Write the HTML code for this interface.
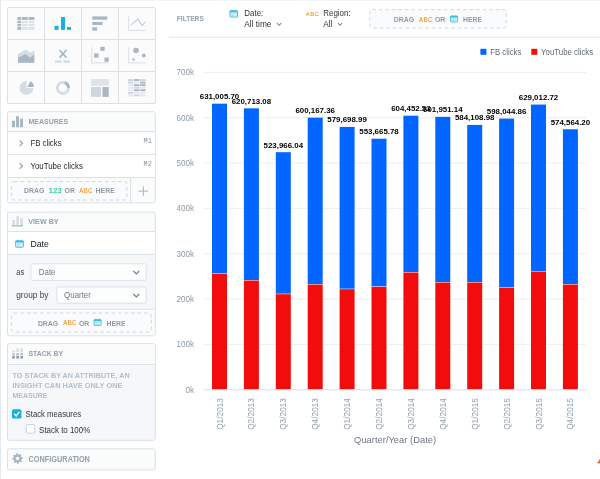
<!DOCTYPE html>
<html><head><meta charset="utf-8"><style>
html,body{margin:0;padding:0;}
body{width:600px;height:479px;position:relative;overflow:hidden;background:#fff;font-family:"Liberation Sans", sans-serif;}
.a{position:absolute;}
svg{will-change:transform;}
</style></head><body>
<div class="a" style="left:0;top:0;width:600px;height:1px;background:#f2f4f7"></div>
<div class="a" style="left:0;top:0;width:1px;height:479px;background:#e3e8ec"></div>
<div class="a" style="left:7px;top:7px;width:149px;height:96.5px;box-sizing:border-box;border:1px solid #d9e1e8;border-radius:2px;background:#fbfbfc"></div><div class="a" style="left:44px;top:7.5px;width:1px;height:95.5px;background:#d9e1e8"></div><div class="a" style="left:81px;top:7.5px;width:1px;height:95.5px;background:#d9e1e8"></div><div class="a" style="left:118px;top:7.5px;width:1px;height:95.5px;background:#d9e1e8"></div><div class="a" style="left:7px;top:39.3px;width:149px;height:1px;background:#d9e1e8"></div><div class="a" style="left:7px;top:71.3px;width:149px;height:1px;background:#d9e1e8"></div><svg class="a" style="left:0;top:0" width="160" height="110"><rect x="17.3" y="17" width="3.8" height="2.9" fill="#a9b7c3"/><rect x="22" y="17" width="5.8" height="2.9" fill="#a9b7c3"/><rect x="28.6" y="17" width="5.9" height="2.9" fill="#a9b7c3"/><rect x="17.3" y="20.8" width="3.8" height="2.3" fill="#a9b7c3"/><rect x="22" y="20.8" width="5.8" height="2.3" fill="#dde2e7"/><rect x="28.6" y="20.8" width="5.9" height="2.3" fill="#dde2e7"/><rect x="17.3" y="23.9" width="3.8" height="2.3" fill="#a9b7c3"/><rect x="22" y="23.9" width="5.8" height="2.3" fill="#dde2e7"/><rect x="28.6" y="23.9" width="5.9" height="2.3" fill="#dde2e7"/><rect x="17.3" y="27" width="3.8" height="2.9" fill="#a9b7c3"/><rect x="22" y="27" width="5.8" height="2.9" fill="#dde2e7"/><rect x="28.6" y="27" width="5.9" height="2.9" fill="#dde2e7"/><rect x="54.5" y="25.8" width="4" height="4.1" fill="#14b2e2"/><rect x="61" y="17" width="4" height="12.9" fill="#14b2e2"/><rect x="67" y="27" width="4" height="2.9" fill="#14b2e2"/><rect x="92.3" y="16.4" width="15" height="3.3" fill="#a9b7c3"/><rect x="92.3" y="22" width="10.2" height="3" fill="#a9b7c3"/><rect x="92.3" y="27.3" width="4.7" height="3.4" fill="#a9b7c3"/><path d="M128.6 16.4 V30.4 H145.8" fill="none" stroke="#d5dce2" stroke-width="0.9"/><path d="M131 25 L137.9 18.9 L142.3 25.6 L145.4 21.7" fill="none" stroke="#a9b7c3" stroke-width="0.9"/><path d="M18 54 L25.8 49.6 L30.1 52.8 L34.3 50.2 V62.8 H18Z" fill="#d5dce2"/><path d="M18 57.8 L25.8 54 L30.1 57.8 L34.3 54.6 V62.8 H18Z" fill="#a9b7c3"/><path d="M59.6 50 L66.4 57.6 M66.4 50 L59.6 57.6" stroke="#a9b7c3" stroke-width="1.7" fill="none"/><rect x="55" y="60.5" width="6.7" height="2.3" fill="#d5dce2"/><rect x="63.3" y="60.5" width="6.8" height="2.3" fill="#d5dce2"/><path d="M91.6 47.1 V62.9 H108.5" fill="none" stroke="#d5dce2" stroke-width="0.9"/><rect x="100.4" y="46.8" width="4.3" height="4.1" fill="#a9b7c3"/><rect x="94.1" y="53.4" width="4.4" height="4.3" fill="#a9b7c3"/><rect x="104.5" y="57.5" width="4.2" height="4.3" fill="#a9b7c3"/><path d="M128.6 47.1 V62.9 H145.8" fill="none" stroke="#d5dce2" stroke-width="0.9"/><circle cx="136" cy="50.5" r="2.8" fill="#a9b7c3"/><circle cx="143.8" cy="55.5" r="1.9" fill="#a9b7c3"/><circle cx="133.5" cy="59.4" r="1.25" fill="#a9b7c3"/><path d="M26.4 87.9 L33.40 87.90 A7 7 0 1 1 26.40 80.90 Z" fill="#d5dce2"/><path d="M27.2 87.1 L30.45 81.24 A6.7 6.7 0 0 1 33.90 87.10 Z" fill="#a9b7c3"/><circle cx="62.9" cy="87.9" r="5.6" fill="none" stroke="#d5dce2" stroke-width="2.8"/><path d="M64.8 82.6 A5.6 5.6 0 0 1 68.5 87.9" fill="none" stroke="#a9b7c3" stroke-width="2.8"/><rect x="91" y="79.1" width="17.8" height="6.6" fill="#dde3e8"/><rect x="91" y="87" width="10" height="9.9" fill="#cfd7de"/><rect x="102.5" y="87" width="6.2" height="9.9" fill="#a9b7c3"/><rect x="127.90" y="79.10" width="5.5" height="1.9" fill="#cdd5dc"/><rect x="134.00" y="79.10" width="5.5" height="1.9" fill="#a9b7c3"/><rect x="140.10" y="79.10" width="5.5" height="1.9" fill="#cdd5dc"/><rect x="127.90" y="81.65" width="5.5" height="1.9" fill="#cdd5dc"/><rect x="134.00" y="81.65" width="5.5" height="1.9" fill="#e4e8ec"/><rect x="140.10" y="81.65" width="5.5" height="1.9" fill="#a9b7c3"/><rect x="127.90" y="84.20" width="5.5" height="1.9" fill="#e4e8ec"/><rect x="134.00" y="84.20" width="5.5" height="1.9" fill="#a9b7c3"/><rect x="140.10" y="84.20" width="5.5" height="1.9" fill="#a9b7c3"/><rect x="127.90" y="86.75" width="5.5" height="1.9" fill="#e4e8ec"/><rect x="134.00" y="86.75" width="5.5" height="1.9" fill="#cdd5dc"/><rect x="140.10" y="86.75" width="5.5" height="1.9" fill="#e4e8ec"/><rect x="127.90" y="89.30" width="5.5" height="1.9" fill="#e4e8ec"/><rect x="134.00" y="89.30" width="5.5" height="1.9" fill="#a9b7c3"/><rect x="140.10" y="89.30" width="5.5" height="1.9" fill="#a9b7c3"/><rect x="127.90" y="91.85" width="5.5" height="1.9" fill="#cdd5dc"/><rect x="134.00" y="91.85" width="5.5" height="1.9" fill="#e4e8ec"/><rect x="140.10" y="91.85" width="5.5" height="1.9" fill="#e4e8ec"/><rect x="127.90" y="94.40" width="5.5" height="1.9" fill="#e4e8ec"/><rect x="134.00" y="94.40" width="5.5" height="1.9" fill="#cdd5dc"/><rect x="140.10" y="94.40" width="5.5" height="1.9" fill="#e4e8ec"/></svg><svg width="600" height="479" style="position:absolute;left:0;top:0" font-family='"Liberation Sans", sans-serif'><rect x="7.5" y="111.7" width="147.8" height="91.10000000000001" rx="2" fill="#fafbfb" stroke="#d9e1e8" stroke-width="1"/><rect x="8.5" y="132" width="146.3" height="45.5" fill="#ffffff" /><rect x="8" y="131.1" width="147.3" height="1" fill="#d9e1e8" /><rect x="8" y="153.9" width="147.3" height="1" fill="#d9e1e8" /><rect x="8" y="177.0" width="147.3" height="1" fill="#d9e1e8" /><rect x="12" y="120.7" width="3" height="6.5" fill="#a9b7c3" /><rect x="16" y="116.2" width="3" height="11" fill="#a9b7c3" /><rect x="20" y="118.7" width="3" height="8.5" fill="#a9b7c3" /><text transform="translate(28.5,124.1) scale(1,1.12)" font-size="7.0" fill="#94a1ad" font-weight="bold" text-anchor="start" >MEASURES</text><path d="M19.6 140.5 L22.5 143.3 L19.6 146.1" fill="none" stroke="#9aa7b2" stroke-width="1.25"/><text transform="translate(30.4,145.8) scale(1,1.12)" font-size="7.8" fill="#1e2226" font-weight="normal" text-anchor="start" >FB clicks</text><path d="M19.6 163.2 L22.5 166.0 L19.6 168.79999999999998" fill="none" stroke="#9aa7b2" stroke-width="1.25"/><text transform="translate(30.4,168.5) scale(1,1.12)" font-size="7.9" fill="#1e2226" font-weight="normal" text-anchor="start" >YouTube clicks</text><text x="151.8" y="142.9" font-size="6.9" fill="#8894a0" text-anchor="end" font-family="Liberation Mono, monospace">M1</text><text x="151.8" y="166" font-size="6.9" fill="#8894a0" text-anchor="end" font-family="Liberation Mono, monospace">M2</text><rect x="11.6" y="181.6" width="115.30000000000001" height="18.400000000000006" rx="2.5" fill="#fafbfc" stroke="#cfd7de" stroke-width="1" stroke-dasharray="3.6 2.9"/><rect x="130.1" y="177.5" width="1" height="25.30000000000001" fill="#d9e1e8" /><rect x="138.4" y="190.6" width="9.9" height="1" fill="#a9b6c1" /><rect x="142.85" y="186.2" width="1" height="9.8" fill="#a9b6c1" /><text x="24" y="193.3" font-size="6.9" fill="#8f9ba6" font-weight="bold" text-anchor="start" >DRAG</text><text transform="translate(48.8,193.3) scale(1,1.05)" font-size="7.2" fill="#1fbf91" font-weight="normal" text-anchor="start" letter-spacing="0.35" stroke="#1fbf91" stroke-width="0.15">123</text><text x="64.6" y="193.3" font-size="6.9" fill="#8f9ba6" font-weight="bold" text-anchor="start" >OR</text><text transform="translate(79.2,192.9) scale(1,1.05)" font-size="6.0" fill="#f18600" font-weight="normal" text-anchor="start" letter-spacing="0.45">ABC</text><text x="95.6" y="193.3" font-size="6.9" fill="#8f9ba6" font-weight="bold" text-anchor="start" >HERE</text><rect x="7.5" y="212.1" width="147.8" height="123.70000000000002" rx="2" fill="#fafbfb" stroke="#d9e1e8" stroke-width="1"/><rect x="8.5" y="231.8" width="146.3" height="22.4" fill="#ffffff" /><rect x="8.5" y="254.6" width="146.3" height="54.4" fill="#f5f7f9" /><rect x="8" y="230.9" width="147.3" height="1" fill="#d9e1e8" /><rect x="8" y="254.0" width="147.3" height="1" fill="#d9e1e8" /><rect x="8" y="308.7" width="147.3" height="1" fill="#d9e1e8" /><rect x="12.3" y="220" width="2.6" height="5.5" fill="#d5dce2" /><rect x="16.3" y="216.2" width="2.6" height="9.3" fill="#d5dce2" /><rect x="20.3" y="218.2" width="2.6" height="7.3" fill="#d5dce2" /><rect x="12" y="225.2" width="11" height="1.3" fill="#a9b7c3" /><text transform="translate(28.3,224) scale(1,1.08)" font-size="7.2" fill="#94a1ad" font-weight="bold" text-anchor="start" >VIEW BY</text><g transform="translate(14.9,239.2) scale(0.5111111111111111)"><rect x="1.4" y="3.2" width="15.2" height="12.6" rx="1.6" fill="#d6f0f9" stroke="#3bbde6" stroke-width="1.8"/><rect x="1" y="3" width="16" height="3.4" fill="#3bbde6"/><rect x="4.3" y="0.8" width="2.2" height="3.2" rx="1" fill="#3bbde6"/><rect x="11.5" y="0.8" width="2.2" height="3.2" rx="1" fill="#3bbde6"/><rect x="4" y="8.6" width="10" height="5" fill="#8fd6ee"/><path d="M4.6 9.3 L7.3 11.1 L4.6 12.9Z" fill="#ffffff"/><rect x="8.6" y="9.2" width="2.4" height="3.9" fill="#ffffff"/><rect x="12.2" y="9.2" width="1.4" height="3.9" fill="#ffffff"/></g><text x="30.5" y="247.2" font-size="8.7" fill="#15191c" font-weight="normal" text-anchor="start" >Date</text><text transform="translate(16.2,275) scale(1,1.1)" font-size="7.6" fill="#3c4349" font-weight="normal" text-anchor="start" >as</text><rect x="30.9" y="263.8" width="115.3" height="16.6" rx="1.5" fill="#fcfdfd" stroke="#d9e1e8" stroke-width="1"/><text transform="translate(38.8,275.1) scale(1,1.1)" font-size="7.9" fill="#6f7b86" font-weight="normal" text-anchor="start" >Date</text><path d="M133.4 271 L136.3 273.9 L139.20000000000002 271" fill="none" stroke="#6f7a85" stroke-width="1.1"/><text transform="translate(16.2,298.2) scale(1,1.05)" font-size="8.3" fill="#3c4349" font-weight="normal" text-anchor="start" >group by</text><rect x="56.8" y="287" width="89.4" height="16.2" rx="1.5" fill="#fcfdfd" stroke="#d9e1e8" stroke-width="1"/><text transform="translate(64.1,297.9) scale(1,1.1)" font-size="7.9" fill="#6f7b86" font-weight="normal" text-anchor="start" >Quarter</text><path d="M133.4 294 L136.3 296.9 L139.20000000000002 294" fill="none" stroke="#6f7a85" stroke-width="1.1"/><rect x="11.6" y="313.0" width="139.8" height="19.0" rx="2.5" fill="#fafbfc" stroke="#cfd7de" stroke-width="1" stroke-dasharray="3.6 2.9"/><text x="37.9" y="325.8" font-size="6.9" fill="#8f9ba6" font-weight="bold" text-anchor="start" >DRAG</text><text transform="translate(63.2,325.3) scale(1,1.05)" font-size="6.0" fill="#f18600" font-weight="normal" text-anchor="start" letter-spacing="0.45">ABC</text><text x="79.0" y="325.8" font-size="6.9" fill="#8f9ba6" font-weight="bold" text-anchor="start" >OR</text><g transform="translate(93.4,318.2) scale(0.4666666666666667)"><rect x="1.4" y="3.2" width="15.2" height="12.6" rx="1.6" fill="#d6f0f9" stroke="#3bbde6" stroke-width="1.8"/><rect x="1" y="3" width="16" height="3.4" fill="#3bbde6"/><rect x="4.3" y="0.8" width="2.2" height="3.2" rx="1" fill="#3bbde6"/><rect x="11.5" y="0.8" width="2.2" height="3.2" rx="1" fill="#3bbde6"/><rect x="4" y="8.6" width="10" height="5" fill="#8fd6ee"/><path d="M4.6 9.3 L7.3 11.1 L4.6 12.9Z" fill="#ffffff"/><rect x="8.6" y="9.2" width="2.4" height="3.9" fill="#ffffff"/><rect x="12.2" y="9.2" width="1.4" height="3.9" fill="#ffffff"/></g><text x="106.5" y="325.8" font-size="6.9" fill="#8f9ba6" font-weight="bold" text-anchor="start" >HERE</text><rect x="7.5" y="343.7" width="147.8" height="96.60000000000002" rx="2" fill="#f5f7f9" stroke="#d9e1e8" stroke-width="1"/><rect x="8.5" y="344.2" width="146.3" height="20" fill="#fafbfb" /><rect x="8" y="363.9" width="147.3" height="1" fill="#d9e1e8" /><rect x="12.2" y="350.5" width="2.6" height="2" fill="#d7dee4" /><rect x="12.2" y="353.2" width="2.6" height="2.2" fill="#b7c3cc" /><rect x="12.2" y="356" width="2.6" height="2.6" fill="#8d9ba7" /><rect x="16.3" y="348.5" width="2.6" height="3.5" fill="#d7dee4" /><rect x="16.3" y="353" width="2.6" height="2.5" fill="#b7c3cc" /><rect x="16.3" y="356" width="2.6" height="2.6" fill="#8d9ba7" /><rect x="20.4" y="348.3" width="2.6" height="4" fill="#d7dee4" /><rect x="20.4" y="353" width="2.6" height="2.3" fill="#b7c3cc" /><rect x="20.4" y="356" width="2.6" height="2.6" fill="#8d9ba7" /><text transform="translate(28.5,356) scale(1,1.12)" font-size="6.9" fill="#94a1ad" font-weight="bold" text-anchor="start" >STACK BY</text><text transform="translate(12.5,378.2) scale(1,1.05)" font-size="7.26" fill="#b3bec8" font-weight="bold" text-anchor="start" >TO STACK BY AN ATTRIBUTE, AN</text><text transform="translate(12.5,388.2) scale(1,1.05)" font-size="7.4" fill="#b3bec8" font-weight="bold" text-anchor="start" >INSIGHT CAN HAVE ONLY ONE</text><text transform="translate(12.5,398.2) scale(1,1.08)" font-size="7.0" fill="#b3bec8" font-weight="bold" text-anchor="start" >MEASURE</text><rect x="12" y="409.3" width="9.4" height="9.2" rx="1.5" fill="#14b2e2"/><path d="M14.2 413.8 L16.2 415.9 L19.3 411.8" fill="none" stroke="#fff" stroke-width="1.3"/><text transform="translate(25.6,417.4) scale(1,1.18)" font-size="7.75" fill="#30363b" font-weight="normal" text-anchor="start" >Stack measures</text><rect x="26.2" y="424.5" width="8.6" height="8.7" rx="1.2" fill="#fff" stroke="#c9d2da" stroke-width="1"/><text transform="translate(39.1,432.8) scale(1,1.15)" font-size="7.95" fill="#30363b" font-weight="normal" text-anchor="start" >Stack to 100%</text><rect x="7.5" y="448.8" width="147.8" height="21.099999999999966" rx="2" fill="#fafbfb" stroke="#d9e1e8" stroke-width="1"/><polygon points="22.80,457.45 22.90,458.50 21.42,459.28 21.20,460.03 21.99,461.50 21.32,462.32 19.72,461.83 19.03,462.20 18.55,463.80 17.50,463.90 16.72,462.42 15.97,462.20 14.50,462.99 13.68,462.32 14.17,460.72 13.80,460.03 12.20,459.55 12.10,458.50 13.58,457.72 13.80,456.97 13.01,455.50 13.68,454.68 15.28,455.17 15.97,454.80 16.45,453.20 17.50,453.10 18.28,454.58 19.03,454.80 20.50,454.01 21.32,454.68 20.83,456.28 21.20,456.97" fill="#a9b7c3"/><circle cx="17.5" cy="458.5" r="1.8" fill="#fafbfb"/><text transform="translate(28.5,461.6) scale(1,1.15)" font-size="7.35" fill="#94a1ad" font-weight="bold" text-anchor="start" >CONFIGURATION</text><text x="176.8" y="21.4" font-size="6.6" fill="#94a1ad" font-weight="bold" text-anchor="start" >FILTERS</text><g transform="translate(229.2,9.2) scale(0.5)"><rect x="1.4" y="3.2" width="15.2" height="12.6" rx="1.6" fill="#d6f0f9" stroke="#3bbde6" stroke-width="1.8"/><rect x="1" y="3" width="16" height="3.4" fill="#3bbde6"/><rect x="4.3" y="0.8" width="2.2" height="3.2" rx="1" fill="#3bbde6"/><rect x="11.5" y="0.8" width="2.2" height="3.2" rx="1" fill="#3bbde6"/><rect x="4" y="8.6" width="10" height="5" fill="#8fd6ee"/><path d="M4.6 9.3 L7.3 11.1 L4.6 12.9Z" fill="#ffffff"/><rect x="8.6" y="9.2" width="2.4" height="3.9" fill="#ffffff"/><rect x="12.2" y="9.2" width="1.4" height="3.9" fill="#ffffff"/></g><text transform="translate(244.3,16.2) scale(1,1.15)" font-size="7.95" fill="#30363b" font-weight="normal" text-anchor="start" >Date:</text><text transform="translate(244.3,27.4) scale(1,1.05)" font-size="8.3" fill="#30363b" font-weight="normal" text-anchor="start" >All time</text><path d="M277 23.2 L279.1 25.3 L281.2 23.2" fill="none" stroke="#7d8994" stroke-width="1.15"/><text x="305.8" y="16.2" font-size="5.9" fill="#f18600" font-weight="normal" text-anchor="start" letter-spacing="0.45">ABC</text><text transform="translate(323.3,16.2) scale(1,1.15)" font-size="7.95" fill="#30363b" font-weight="normal" text-anchor="start" >Region:</text><text transform="translate(323.3,27.4) scale(1,1.05)" font-size="8.3" fill="#30363b" font-weight="normal" text-anchor="start" >All</text><path d="M338 23.2 L340.1 25.3 L342.2 23.2" fill="none" stroke="#7d8994" stroke-width="1.15"/><rect x="369.8" y="9.7" width="136.5" height="18.400000000000002" rx="2.5" fill="#fafbfc" stroke="#cfd7de" stroke-width="1" stroke-dasharray="3.6 2.9"/><text x="393.8" y="22.1" font-size="6.9" fill="#8f9ba6" font-weight="bold" text-anchor="start" >DRAG</text><text transform="translate(419.1,21.9) scale(1,1.05)" font-size="6.0" fill="#f18600" font-weight="normal" text-anchor="start" letter-spacing="0.45">ABC</text><text x="435.0" y="22.1" font-size="6.9" fill="#8f9ba6" font-weight="bold" text-anchor="start" >OR</text><g transform="translate(449.9,14.6) scale(0.4666666666666667)"><rect x="1.4" y="3.2" width="15.2" height="12.6" rx="1.6" fill="#d6f0f9" stroke="#3bbde6" stroke-width="1.8"/><rect x="1" y="3" width="16" height="3.4" fill="#3bbde6"/><rect x="4.3" y="0.8" width="2.2" height="3.2" rx="1" fill="#3bbde6"/><rect x="11.5" y="0.8" width="2.2" height="3.2" rx="1" fill="#3bbde6"/><rect x="4" y="8.6" width="10" height="5" fill="#8fd6ee"/><path d="M4.6 9.3 L7.3 11.1 L4.6 12.9Z" fill="#ffffff"/><rect x="8.6" y="9.2" width="2.4" height="3.9" fill="#ffffff"/><rect x="12.2" y="9.2" width="1.4" height="3.9" fill="#ffffff"/></g><text x="463.0" y="22.1" font-size="6.9" fill="#8f9ba6" font-weight="bold" text-anchor="start" >HERE</text><rect x="169" y="36.7" width="431" height="1" fill="#dfe5eb" /></svg><svg width="600" height="479" style="position:absolute;left:0;top:0" font-family='"Liberation Sans", sans-serif'><rect x="204" y="343.87" width="382" height="1" fill="#eeeeee"/><text transform="translate(194,347.27) scale(1,1.15)" text-anchor="end" font-size="8.1" fill="#8d9aa6">100k</text><rect x="204" y="298.54" width="382" height="1" fill="#eeeeee"/><text transform="translate(194,301.94) scale(1,1.15)" text-anchor="end" font-size="8.1" fill="#8d9aa6">200k</text><rect x="204" y="253.21" width="382" height="1" fill="#eeeeee"/><text transform="translate(194,256.61) scale(1,1.15)" text-anchor="end" font-size="8.1" fill="#8d9aa6">300k</text><rect x="204" y="207.88" width="382" height="1" fill="#eeeeee"/><text transform="translate(194,211.28) scale(1,1.15)" text-anchor="end" font-size="8.1" fill="#8d9aa6">400k</text><rect x="204" y="162.55" width="382" height="1" fill="#eeeeee"/><text transform="translate(194,165.95) scale(1,1.15)" text-anchor="end" font-size="8.1" fill="#8d9aa6">500k</text><rect x="204" y="117.22" width="382" height="1" fill="#eeeeee"/><text transform="translate(194,120.62) scale(1,1.15)" text-anchor="end" font-size="8.1" fill="#8d9aa6">600k</text><rect x="204" y="71.89" width="382" height="1" fill="#eeeeee"/><text transform="translate(194,75.29) scale(1,1.15)" text-anchor="end" font-size="8.1" fill="#8d9aa6">700k</text><text transform="translate(194,392.60) scale(1,1.15)" text-anchor="end" font-size="8.1" fill="#8d9aa6">0k</text><rect x="212.00" y="103.67" width="15" height="169.63" fill="#0066ff"/><rect x="212.00" y="273.80" width="15" height="115.90" fill="#f20c0c"/><rect x="243.90" y="108.33" width="15" height="171.67" fill="#0066ff"/><rect x="243.90" y="280.50" width="15" height="109.20" fill="#f20c0c"/><rect x="275.80" y="152.19" width="15" height="141.51" fill="#0066ff"/><rect x="275.80" y="294.20" width="15" height="95.50" fill="#f20c0c"/><rect x="307.70" y="117.64" width="15" height="166.36" fill="#0066ff"/><rect x="307.70" y="284.50" width="15" height="105.20" fill="#f20c0c"/><rect x="339.60" y="126.92" width="15" height="161.78" fill="#0066ff"/><rect x="339.60" y="289.20" width="15" height="100.50" fill="#f20c0c"/><rect x="371.50" y="138.72" width="15" height="147.58" fill="#0066ff"/><rect x="371.50" y="286.80" width="15" height="102.90" fill="#f20c0c"/><rect x="403.40" y="115.70" width="15" height="156.30" fill="#0066ff"/><rect x="403.40" y="272.50" width="15" height="117.20" fill="#f20c0c"/><rect x="435.30" y="116.84" width="15" height="165.16" fill="#0066ff"/><rect x="435.30" y="282.50" width="15" height="107.20" fill="#f20c0c"/><rect x="467.20" y="124.92" width="15" height="157.08" fill="#0066ff"/><rect x="467.20" y="282.50" width="15" height="107.20" fill="#f20c0c"/><rect x="499.10" y="118.61" width="15" height="168.69" fill="#0066ff"/><rect x="499.10" y="287.80" width="15" height="101.90" fill="#f20c0c"/><rect x="531.00" y="104.57" width="15" height="166.43" fill="#0066ff"/><rect x="531.00" y="271.50" width="15" height="118.20" fill="#f20c0c"/><rect x="562.90" y="129.25" width="15" height="154.75" fill="#0066ff"/><rect x="562.90" y="284.50" width="15" height="105.20" fill="#f20c0c"/><text x="219.50" y="99.17" text-anchor="middle" font-size="7.9" font-weight="bold" fill="#000">631,005.70</text><text transform="translate(222.50,398) rotate(-90)" text-anchor="end" font-size="8.3" fill="#94a1ad">Q1/2013</text><text x="251.40" y="103.83" text-anchor="middle" font-size="7.9" font-weight="bold" fill="#000">620,713.08</text><text transform="translate(254.40,398) rotate(-90)" text-anchor="end" font-size="8.3" fill="#94a1ad">Q2/2013</text><text x="283.30" y="147.69" text-anchor="middle" font-size="7.9" font-weight="bold" fill="#000">523,966.04</text><text transform="translate(286.30,398) rotate(-90)" text-anchor="end" font-size="8.3" fill="#94a1ad">Q3/2013</text><text x="315.20" y="113.14" text-anchor="middle" font-size="7.9" font-weight="bold" fill="#000">600,167.36</text><text transform="translate(318.20,398) rotate(-90)" text-anchor="end" font-size="8.3" fill="#94a1ad">Q4/2013</text><text x="347.10" y="122.42" text-anchor="middle" font-size="7.9" font-weight="bold" fill="#000">579,698.99</text><text transform="translate(350.10,398) rotate(-90)" text-anchor="end" font-size="8.3" fill="#94a1ad">Q1/2014</text><text x="379.00" y="134.22" text-anchor="middle" font-size="7.9" font-weight="bold" fill="#000">553,665.78</text><text transform="translate(382.00,398) rotate(-90)" text-anchor="end" font-size="8.3" fill="#94a1ad">Q2/2014</text><text x="410.90" y="111.20" text-anchor="middle" font-size="7.9" font-weight="bold" fill="#000">604,452.53</text><text transform="translate(413.90,398) rotate(-90)" text-anchor="end" font-size="8.3" fill="#94a1ad">Q3/2014</text><text x="442.80" y="112.34" text-anchor="middle" font-size="7.9" font-weight="bold" fill="#000">601,951.14</text><text transform="translate(445.80,398) rotate(-90)" text-anchor="end" font-size="8.3" fill="#94a1ad">Q4/2014</text><text x="474.70" y="120.42" text-anchor="middle" font-size="7.9" font-weight="bold" fill="#000">584,108.98</text><text transform="translate(477.70,398) rotate(-90)" text-anchor="end" font-size="8.3" fill="#94a1ad">Q1/2015</text><text x="506.60" y="114.11" text-anchor="middle" font-size="7.9" font-weight="bold" fill="#000">598,044.86</text><text transform="translate(509.60,398) rotate(-90)" text-anchor="end" font-size="8.3" fill="#94a1ad">Q2/2015</text><text x="538.50" y="100.07" text-anchor="middle" font-size="7.9" font-weight="bold" fill="#000">629,012.72</text><text transform="translate(541.50,398) rotate(-90)" text-anchor="end" font-size="8.3" fill="#94a1ad">Q3/2015</text><text x="570.40" y="124.75" text-anchor="middle" font-size="7.9" font-weight="bold" fill="#000">574,564.20</text><text transform="translate(573.40,398) rotate(-90)" text-anchor="end" font-size="8.3" fill="#94a1ad">Q4/2015</text><rect x="204" y="389.2" width="382" height="1.2" fill="#dfe5eb"/><text x="395.1" y="443" text-anchor="middle" font-size="9.4" fill="#6d7680">Quarter/Year (Date)</text><path d="M596.6 462.9 L598.6 461.6 L599.3 459.6 L600 459.2 V463.6 Z" fill="#c4561e" opacity="0.85"/><rect x="480.4" y="48.8" width="6" height="6" fill="#0066ff"/><text transform="translate(490.2,54.8) scale(1,1.15)" font-size="7.8" fill="#5f6973" font-weight="normal" text-anchor="start" >FB clicks</text><rect x="531.3" y="48.8" width="6" height="6" fill="#f20c0c"/><text transform="translate(541.1,54.8) scale(1,1.15)" font-size="7.85" fill="#5f6973" font-weight="normal" text-anchor="start" >YouTube clicks</text></svg>
</body></html>
